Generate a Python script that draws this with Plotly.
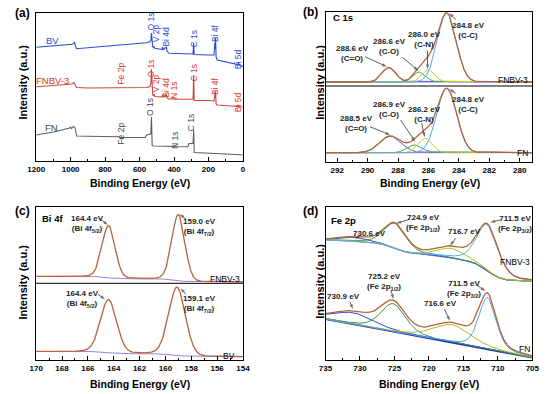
import numpy as np
import plotly.graph_objects as go

W, H = 550, 394

# ---------------- (a) survey spectra (binding energy eV, intensity a.u.) ----------------
BV_E = [1200, 1100, 990, 978, 972, 966, 800, 700, 560, 540, 534, 531, 528, 524, 518, 515, 512, 470, 466, 463,
        444, 441, 430, 300, 290, 286, 283, 200, 168, 164, 162, 159, 156, 150, 100, 30, 26, 22, 0]
BV_I = [113.7, 115.3, 116.7, 118.5, 116, 112.3, 114.7, 116.1, 118.2, 119.3, 121, 128, 116, 114.3, 113.5, 114.5,
        112.7, 111.5, 114, 111.5, 114, 110, 107.7, 106.7, 107, 118, 106.5, 106, 106, 118, 112, 123, 104, 101, 99,
        96.5, 98, 96, 94.5]
FNBV_E = [1200, 1100, 992, 980, 975, 966, 900, 720, 712, 560, 540, 534, 531, 528, 524, 518, 515, 512, 470, 466,
          462, 444, 441, 430, 402, 399, 396, 300, 290, 286, 283, 200, 168, 164, 162, 159, 156, 150, 100, 30, 26, 22, 0]
FNBV_I = [74.3, 75.5, 77, 78.5, 76.5, 73.5, 73, 73.5, 72.8, 73.5, 74.5, 78, 92, 70, 66, 65.5, 67, 64.5, 64, 66.5,
          64, 66.5, 63, 62, 62, 63, 61.8, 61.7, 62, 86, 60.5, 60.5, 60, 66, 63, 69.5, 57, 56, 55.5, 54.5, 56, 54.3, 54]
FN_E = [1200, 1100, 1010, 1000, 995, 985, 975, 965, 900, 800, 720, 712, 600, 568, 560, 545, 535, 531, 527, 520,
        402, 399, 396, 320, 314, 290, 286, 283, 200, 100, 0]
FN_I = [26, 29, 32.7, 33.8, 32.5, 34.5, 33.5, 25, 24.8, 24.5, 24.3, 23.5, 23, 23.5, 26, 26.5, 27, 44, 15.5, 15,
        14.6, 15.5, 14.5, 14.3, 17.5, 17.5, 31, 8.5, 8, 7, 6]

# ---------------- (b) C 1s fits ----------------
C1S_NAMES = ["C-C", "C-N", "C-O", "C=O"]
C1S_FNBV_CENTER = [284.8, 286.0, 286.6, 288.6]
C1S_FNBV_HEIGHT = [69, 12, 10, 14.5]
C1S_FNBV_SIGMA = [0.62, 0.42, 0.42, 0.45]
C1S_FNBV_BASE = 80
C1S_FN_CENTER = [284.8, 286.2, 286.9, 288.5]
C1S_FN_HEIGHT = [64.4, 14.4, 7.7, 16.7]
C1S_FN_SIGMA = [0.65, 0.45, 0.5, 0.7]
C1S_FN_BASE = 9.3

# ---------------- (c) Bi 4f fits ----------------
BI_FNBV_CENTER = [164.4, 159.0]
BI_FNBV_HEIGHT = [52, 66]
BI_FNBV_SIGMA = [0.5, 0.5]
BI_FNBV_BG = [83.5, 78.0]   # high-BE side, low-BE side
BI_BV_CENTER = [164.4, 159.1]
BI_BV_HEIGHT = [53, 68]
BI_BV_SIGMA = [0.62, 0.64]
BI_BV_BG = [8.5, 3.3]

# ---------------- (d) Fe 2p fits ----------------
FE_FNBV_CENTER = [730.6, 724.9, 716.7, 711.5]
FE_FNBV_HEIGHT = [4, 25, 9.5, 46]
FE_FNBV_SIGMA = [2.0, 1.6, 2.0, 1.55]
FE_FNBV_BG = [120.0, 78.5]
FE_FN_CENTER = [730.9, 725.2, 716.6, 711.5]
FE_FN_HEIGHT = [11.5, 28, 18, 52]
FE_FN_SIGMA = [3.0, 1.8, 2.8, 1.25]
FE_FN_BG = [41.0, 2.3]

ENV = "#b4633a"
BGC = "#9b7fe0"


def pv(E, c, h, s, eta):
    g = np.exp(-(E - c) ** 2 / (2 * s ** 2))
    hw = s * 1.1774
    l = 1.0 / (1.0 + ((E - c) / hw) ** 2)
    return h * (eta * l + (1 - eta) * g)


def shirley(E, total, hi, lo):
    # E ascending
    cum = np.concatenate([[0], np.cumsum(0.5 * (total[1:] + total[:-1]) * np.diff(E))])
    return lo + (hi - lo) * cum / cum[-1]


fig = go.Figure()

def line(x, y, color, width, ax):
    fig.add_trace(go.Scatter(x=x, y=y, mode="lines", line=dict(color=color, width=width),
                             xaxis="x" + ax, yaxis="y" + ax, showlegend=False, hoverinfo="skip"))

# (a)
line(FN_E, FN_I, "#5f5f5f", 1.1, "")
line(FNBV_E, FNBV_I, "#c8483a", 1.1, "")
line(BV_E, BV_I, "#2a4bd7", 1.1, "")

# (b)
Eb = np.linspace(279, 293, 700)
c1s_cols = ["#5aa5e6", "#c4d21a", "#3daa5c", "#6a55d8"]
for cen, hts, sig, base in [(C1S_FNBV_CENTER, C1S_FNBV_HEIGHT, C1S_FNBV_SIGMA, C1S_FNBV_BASE),
                            (C1S_FN_CENTER, C1S_FN_HEIGHT, C1S_FN_SIGMA, C1S_FN_BASE)]:
    comps = [pv(Eb, c, h, s, 0.0) for c, h, s in zip(cen, hts, sig)]
    line(Eb, np.full_like(Eb, base), BGC, 1, "2")
    for k in [3, 2, 1, 0]:
        line(Eb, base + comps[k], c1s_cols[k], 1, "2")
    line(Eb, base + sum(comps), ENV, 1.3, "2")

# (c)
Ec = np.linspace(154, 170, 700)
for cen, hts, sig, bg in [(BI_FNBV_CENTER, BI_FNBV_HEIGHT, BI_FNBV_SIGMA, BI_FNBV_BG),
                          (BI_BV_CENTER, BI_BV_HEIGHT, BI_BV_SIGMA, BI_BV_BG)]:
    comps = [pv(Ec, c, h, s, 0.1) for c, h, s in zip(cen, hts, sig)]
    tot = sum(comps)
    b = shirley(Ec, tot, bg[0], bg[1])
    line(Ec, b, BGC, 1, "3")
    line(Ec, b + tot, ENV, 1.3, "3")

# (d)
Ed = np.linspace(705, 735, 800)
fe_cols_top = ["#3355cc", "#3a9a5a", "#a8c020", "#5aaee6"]
fe_cols_bot = ["#2f4fd0", "#3a8f5a", "#b5b520", "#4fa6e0"]
# FNBV-3 (Shirley)
comps = [pv(Ed, c, h, s, 0.4) for c, h, s in zip(FE_FNBV_CENTER, FE_FNBV_HEIGHT, FE_FNBV_SIGMA)]
tot = sum(comps)
b = shirley(Ed, tot, FE_FNBV_BG[0], FE_FNBV_BG[1])
line(Ed, b, BGC, 1.2, "4")
for k in range(4):
    line(Ed, b + comps[k], fe_cols_top[k], 1, "4")
line(Ed, b + tot, ENV, 1.3, "4")
# FN (linear)
comps = [pv(Ed, c, h, s, 0.4) for c, h, s in zip(FE_FN_CENTER, FE_FN_HEIGHT, FE_FN_SIGMA)]
tot = sum(comps)
b = FE_FN_BG[1] + (FE_FN_BG[0] - FE_FN_BG[1]) * (Ed - 705) / 30
line(Ed, b, "#2a2ab0", 1.8, "4")
for k in range(4):
    line(Ed, b + comps[k], fe_cols_bot[k], 1, "4")
line(Ed, b + tot, ENV, 1.3, "4")

# ---------------- layout ----------------
def xax(domain, rng, dtick, minor, anchor):
    return dict(domain=domain, range=rng, dtick=dtick, tick0=0, ticks="inside", ticklen=4, tickwidth=1,
                tickcolor="black", minor=dict(ticks="inside", ticklen=2, dtick=minor, tickcolor="black"),
                showline=True, linecolor="black", linewidth=1, mirror=True, showgrid=False, zeroline=False,
                tickfont=dict(family="Arial", size=8, color="black", weight="bold"), anchor=anchor,
                ticklabeloverflow="allow", fixedrange=True)

def yax(domain, rng, anchor):
    return dict(domain=domain, range=rng, showticklabels=False, ticks="", showline=True, linecolor="black",
                linewidth=1, mirror=True, showgrid=False, zeroline=False, anchor=anchor, fixedrange=True)

XL = [28 / W, 241 / W]
XR = [326 / W, 539 / W]
fig.update_layout(
    width=W, height=H, margin=dict(l=0, r=0, t=0, b=0),
    paper_bgcolor="white", plot_bgcolor="white", showlegend=False,
    xaxis=xax(XL, [1200, 0], 200, 100, "y"),
    yaxis=yax([1 - 161 / H, 1 - 13 / H], [0, 148], "x"),
    xaxis2=xax(XR, [292.77, 279.17], 2, 1, "y2"),
    yaxis2=yax([1 - 162 / H, 1 - 12 / H], [0, 150], "x2"),
    xaxis3=xax(XL, [170, 154], 2, 1, "y3"),
    yaxis3=yax([1 - 360 / H, 1 - 207 / H], [0, 153], "x3"),
    xaxis4=xax(XR, [735, 705], 5, 2.5, "y4"),
    yaxis4=yax([1 - 360 / H, 1 - 207 / H], [0, 153], "x4"),
)

# separators in (b) and (c)
fig.add_shape(type="line", xref="x2 domain", yref="y2", x0=0, x1=1, y0=76, y1=76, line=dict(color="black", width=1))
fig.add_shape(type="line", xref="x3 domain", yref="y3", x0=0, x1=1, y0=76.7, y1=76.7, line=dict(color="black", width=1))

ann = []

def paper_text(text, px, py, size, angle=0, bold=True):
    ann.append(dict(text=text, x=px / W, y=1 - py / H, xref="paper", yref="paper", showarrow=False,
                    xanchor="center", yanchor="middle", textangle=angle,
                    font=dict(family="Arial", size=size, color="black", weight="bold" if bold else "normal")))

for px, py in [(135, 183), (434, 183), (135, 384), (433, 384)]:
    paper_text("Binding Energy (eV)", px, py, 10.5)
for px, py in [(14, 82), (320, 82), (14, 282), (320, 281)]:
    paper_text("Intensity (a.u.)", px, py, 11, angle=-90)
for t, px, py in [("(a)", 14, 13), ("(b)", 311, 12), ("(c)", 14, 211), ("(d)", 311, 211)]:
    paper_text(t, px, py, 12)

def dtext(text, x, y, ax, size=8, color="#222", bold=True, xanchor="center", angle=0):
    ann.append(dict(text=text, x=x, y=y, xref="x" + ax, yref="y" + ax, showarrow=False, xanchor=xanchor,
                    yanchor="middle", textangle=angle,
                    font=dict(family="Arial", size=size, color=color, weight="bold" if bold else "normal")))

def arrow(x, y, tx, ty, ax):
    fig.add_trace(go.Scatter(x=[tx, x], y=[ty, y], mode="lines+markers", xaxis="x" + ax, yaxis="y" + ax,
                             line=dict(color="#333", width=0.8),
                             marker=dict(symbol="arrow", size=[0, 5], angleref="previous", color="#333",
                                         line=dict(width=0)),
                             showlegend=False, hoverinfo="skip"))

# (a) labels
BLUE, RED, GRAY = "#2a4bd7", "#d9342b", "#444444"
dtext("BV", 1107, 121, "", 9.5, BLUE, False)
dtext("FNBV-3", 1104, 80.3, "", 9.5, RED, False)
dtext("FN", 1110, 33.7, "", 9.5, GRAY, False)
for t, e, i in [("O 1s", 531, 140), ("V 2p", 503, 128), ("Bi 4d", 449, 124), ("C 1s", 287, 122),
                ("Bi 4f", 162, 128), ("Bi 5d", 28, 102)]:
    dtext(t, e, i, "", 8.5, BLUE, False, angle=-90)
for t, e, i in [("Fe 2p", 710, 87), ("O 1s", 531, 93), ("V 2p", 503, 78), ("Bi 4d", 452, 73.5),
                ("N 1s", 400, 70), ("C 1s", 287, 88), ("Bi 4f", 162, 75), ("Bi 5d", 28, 59)]:
    dtext(t, e, i, "", 8.5, RED, False, angle=-90)
for t, e, i in [("Fe 2p", 710, 27), ("O 1s", 540, 54), ("N 1s", 395, 21), ("C 1s", 300, 38)]:
    dtext(t, e, i, "", 8.5, GRAY, False, angle=-90)

# (b)
dtext("C 1s", 292.38, 144, "2", 9.5, "black", True, "left")
dtext("FNBV-3", 279.3, 82, "2", 8.5, "black", False, "right")
dtext("FN", 279.3, 9, "2", 8.5, "black", False, "right")
for t, x, y, hx, hy, tx, ty in [
    ("284.8 eV<br>(C-C)", 283.38, 131, 284.64, 148.7, 284.21, 142.7),
    ("286.0 eV<br>(C-N)", 286.24, 122.3, 286.06, 92.7, 286.06, 111.3),
    ("286.6 eV<br>(C-O)", 288.57, 115.3, 286.66, 91.3, 287.72, 104.7),
    ("288.6 eV<br>(C=O)", 290.98, 108.3, 288.74, 95.3, 290.17, 105.3),
    ("284.8 eV<br>(C-C)", 283.38, 57.8, 284.64, 73, 284.21, 68.7),
    ("286.2 eV<br>(C-N)", 286.24, 47.3, 286.24, 24.7, 286.45, 38.7),
    ("286.9 eV<br>(C-O)", 288.57, 52.8, 286.87, 20.3, 287.83, 42),
    ("288.5 eV<br>(C=O)", 290.7, 38.7, 288.51, 27, 289.85, 35.3)]:
    dtext(t, x, y, "2")
    arrow(hx, hy, tx, ty, "2")

# (c)
dtext("Bi 4f", 169.7, 141.7, "3", 9.5, "black", True, "left")
dtext("FNBV-3", 154.04, 81, "3", 8.5, "black", False, "right")
dtext("BV", 154.45, 3.8, "3", 8.5, "black", False, "right")
for t, x, y, hx, hy, tx, ty in [
    ("164.4 eV<br>(Bi 4f<sub>5/2</sub>)", 166.04, 136, 164.46, 135, 165.09, 141.7),
    ("159.0 eV<br>(Bi 4f<sub>7/2</sub>)", 157.4, 132.7, 158.9, 145.7, 158.41, 141),
    ("164.4 eV<br>(Bi 4f<sub>5/2</sub>)", 166.42, 60.8, 164.67, 60.7, 165.22, 65.7),
    ("159.1 eV<br>(Bi 4f<sub>7/2</sub>)", 157.4, 56.2, 158.83, 71.7, 158.41, 65.7)]:
    dtext(t, x, y, "3")
    arrow(hx, hy, tx, ty, "3")

# (d)
dtext("Fe 2p", 734.44, 140, "4", 9.5, "black", True, "left")
dtext("FNBV-3", 705.1, 98.3, "4", 8.5, "black", False, "right")
dtext("FN", 705.1, 11, "4", 8.5, "black", False, "right")
for t, x, y, hx, hy, tx, ty in [
    ("730.6 eV", 728.56, 126.7, 730.82, 121.7, 730.07, 123),
    ("724.9 eV<br>(Fe 2p<sub>1/2</sub>)", 720.82, 136.7, 724.72, 136.7, 722.7, 141),
    ("716.7 eV", 714.86, 128.3, 716.93, 114.3, 716.13, 121.7),
    ("711.5 eV<br>(Fe 2p<sub>3/2</sub>)", 707.58, 136, 711.1, 137.7, 709.65, 140),
    ("725.2 eV<br>(Fe 2p<sub>1/2</sub>)", 726.45, 78.3, 725.14, 61, 725.52, 70),
    ("730.9 eV", 732.32, 63.3, 731.01, 51, 731.48, 58.3),
    ("716.6 eV", 718.38, 56.7, 716.93, 39.3, 717.77, 50.7),
    ("711.5 eV<br>(Fe 2p<sub>3/2</sub>)", 714.96, 70.7, 711.8, 69, 713.07, 75)]:
    dtext(t, x, y, "4")
    arrow(hx, hy, tx, ty, "4")

fig.update_layout(annotations=ann)
fig.write_html("out.html", config={"displayModeBar": False},
               post_script="document.body.style.margin='0';document.body.style.padding='0';"
                           "document.documentElement.style.overflow='hidden';")
